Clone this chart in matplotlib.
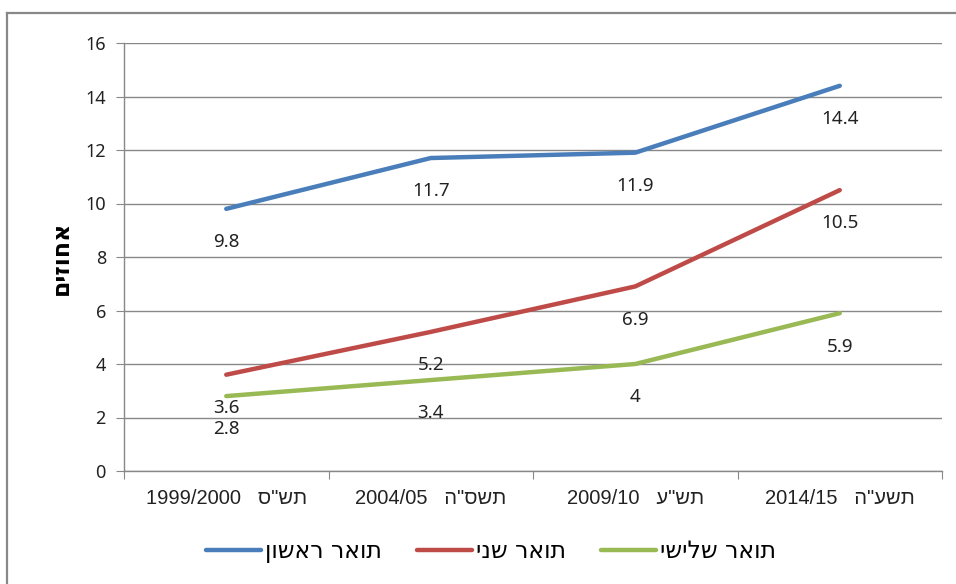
import matplotlib
matplotlib.use("Agg")
import matplotlib.pyplot as plt
from matplotlib.lines import Line2D

plt.rcParams['font.family'] = ['Noto Sans', 'DejaVu Sans']


def rtl(s):
    # matplotlib has no bidi support, so flip Hebrew runs by hand
    return s[::-1]


years = ["1999/2000", "2004/05", "2009/10", "2014/15"]
heb_years = ['תש"ס', 'תשס"ה', 'תש"ע', 'תשע"ה']
series_names = ["תואר ראשון", "תואר שני", "תואר שלישי"]
first_degree = [9.8, 11.7, 11.9, 14.4]
second_degree = [3.6, 5.2, 6.9, 10.5]
third_degree = [2.8, 3.4, 4.0, 5.9]
y_title = "אחוזים"

colors = ["#4A7EBB", "#BE4B48", "#98B954"]

fig = plt.figure(figsize=(9.56, 5.84), dpi=100)
ax = fig.add_axes([124 / 956, 1 - 471 / 584, (942 - 124) / 956, (471 - 43) / 584])

x = list(range(len(years)))
for vals, name, c in zip([first_degree, second_degree, third_degree], series_names, colors):
    ax.plot(x, vals, color=c, lw=3.2, solid_capstyle='round', label=rtl(name))
    for xi, v in zip(x, vals):
        lab = f"{v:g}"
        ax.annotate(lab, (xi, v), xytext=(0, -24), textcoords='offset points',
                    ha='center', va='center', fontsize=13.5, color='#222222')

ax.set_xlim(-0.5, 3.5)
ax.set_ylim(0, 16)
ax.set_yticks(range(0, 17, 2))
ax.tick_params(axis='y', length=6, color='#888888', labelsize=13, pad=7, labelcolor='#222222')

# category boundaries carry the ticks, labels sit in between
ax.set_xticks([-0.5, 0.5, 1.5, 2.5, 3.5])
ax.set_xticklabels([])
ax.set_xticks(x, minor=True)
ax.set_xticklabels([f"{y}   {rtl(h)}" for y, h in zip(years, heb_years)], minor=True,
                   fontfamily=['Liberation Sans', 'DejaVu Sans'])
ax.tick_params(axis='x', which='major', length=6, color='#888888')
ax.tick_params(axis='x', which='minor', length=0, labelsize=14.5, pad=13, labelcolor='#222222')

ax.grid(axis='y', color='#888888', lw=1)
ax.set_axisbelow(True)
for s in ['top', 'right']:
    ax.spines[s].set_visible(False)
for s in ['left', 'bottom']:
    ax.spines[s].set_color('#888888')
    ax.spines[s].set_linewidth(1)

fig.text(61 / 956, 1 - 258 / 584, rtl(y_title), rotation=90, ha='center', va='center',
         fontsize=17, fontweight='bold', fontfamily='DejaVu Sans')

fig.legend(loc='center', bbox_to_anchor=(491 / 956, 1 - 551 / 584), ncol=3, frameon=False,
           handlelength=2.33, handletextpad=0.17, columnspacing=1.5,
           prop={'family': 'DejaVu Sans', 'size': 17})

# outer chart frame (cut off at right and bottom)
fig.add_artist(Line2D([7 / 956, 7 / 956], [0, 1 - 13 / 584], transform=fig.transFigure,
                      color='#888888', lw=1.6))
fig.add_artist(Line2D([7 / 956, 1], [1 - 13 / 584, 1 - 13 / 584], transform=fig.transFigure,
                      color='#888888', lw=1.6))

fig.savefig("out.png", dpi=100)
